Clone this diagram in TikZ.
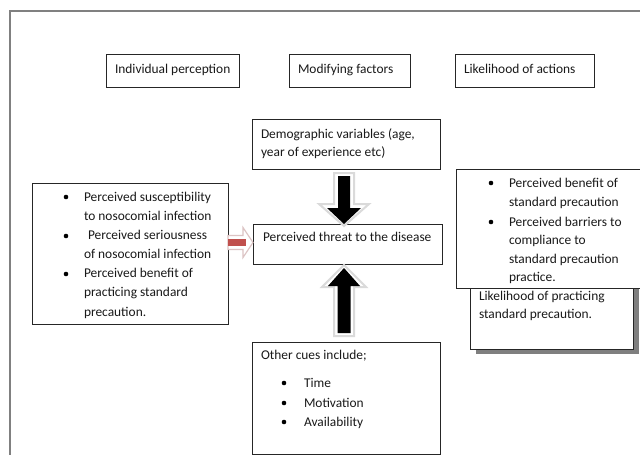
\documentclass[tikz,border=0pt]{standalone}
\usepackage{fontspec}
\setmainfont{Carlito}
\usetikzlibrary{calc,shadows}
\definecolor{framegray}{HTML}{808080}
\definecolor{arrred}{HTML}{C0504D}
\definecolor{halogray}{HTML}{DADADA}
\definecolor{halored}{HTML}{DCC4C4}
\definecolor{shadowgray}{HTML}{7F7F7F}
\tikzset{
  box/.style={draw=black!85, line width=0.8pt, fill=white, inner sep=0pt, outer sep=0pt, anchor=north west},
  txt/.style={inner sep=0pt, outer sep=0pt, anchor=base west, font=\fontsize{13.4}{19}\selectfont, text=black!90},
  bul/.style={circle, fill=black, draw=none, inner sep=0pt, minimum size=4.6pt},
  halo/.style={fill=white, draw=halogray, line width=2pt, line join=miter},
  blk/.style={fill=black, draw=none},
}
% #1 start, #2 tip, #3 shaft half width, #4 head half width, #5 y offset tip->head base
\newcommand{\vblockarrow}[5]{($(#1)+(-#3,0)$) -- ($(#1)+(#3,0)$) -- ($(#2)+(#3,#5)$) -- ($(#2)+(#4,#5)$) -- (#2) -- ($(#2)+(-#4,#5)$) -- ($(#2)+(-#3,#5)$) -- cycle}
\begin{document}
\begin{tikzpicture}[x=1pt,y=-1pt]
\useasboundingbox (0,0) rectangle (640,455);
\clip (0,0) rectangle (640,455);
\fill[white] (0,0) rectangle (640,455);
\draw[framegray, line width=1.2pt] (10,460) -- (10,11) -- (650,11);

% header boxes
\node[box, minimum width=133pt, minimum height=33pt] (hip) at (106,54) {};
\node[txt] (hipt) at ($(hip.north west)+(9,19)$) {Individual perception};
\node[box, minimum width=121pt, minimum height=33pt] (hmf) at (289,54) {};
\node[txt] (hmft) at ($(hmf.north west)+(9,19)$) {Modifying factors};
\node[box, minimum width=139pt, minimum height=33pt] (hla) at (455,54) {};
\node[txt] (hlat) at ($(hla.north west)+(9,19)$) {Likelihood of actions};

% demographic box
\node[box, minimum width=188pt, minimum height=50pt] (demo) at (252,119) {};
\node[txt] (demo1) at (261,138) {Demographic variables (age,};
\node[txt] (demo2) at (261,156) {year of experience etc)};

% threat box
\node[box, minimum width=189pt, minimum height=40pt] (threat) at (253,224) {};
\node[txt] (threat1) at (263,241) {Perceived threat to the disease};

% left list box
\node[box, minimum width=196pt, minimum height=141pt] (left) at (32,183) {};
\node[bul] (lb1) at (66,197) {};
\node[bul] (lb2) at (66,236) {};
\node[bul] (lb3) at (66,274) {};
\node[txt] (l1) at (84,201) {Perceived susceptibility};
\node[txt] (l2) at (84,220.2) {to nosocomial infection};
\node[txt] (l3) at (88,239.3) {Perceived seriousness};
\node[txt] (l4) at (84,258.5) {of nosocomial infection};
\node[txt] (l5) at (84,277.7) {Perceived benefit of};
\node[txt] (l6) at (84,296.8) {practicing standard};
\node[txt] (l7) at (84,316) {precaution.};

% likelihood of practicing box (with shadow)
\node[box, minimum width=163pt, minimum height=75pt,
      drop shadow={shadow xshift=6pt, shadow yshift=-5pt, fill=shadowgray, opacity=1}] (prac) at (470,274) {};
\node[txt] (p1) at (479,300) {Likelihood of practicing};
\node[txt] (p2) at (479,318) {standard precaution.};

% right list box
\node[box, minimum width=190pt, minimum height=119pt] (right) at (456,169) {};
\node[bul] (rb1) at (491,183) {};
\node[bul] (rb2) at (491,222) {};
\node[txt] (r1) at (509,187) {Perceived benefit of};
\node[txt] (r2) at (509,206) {standard precaution};
\node[txt] (r3) at (509,226) {Perceived barriers to};
\node[txt] (r4) at (509,244.5) {compliance to};
\node[txt] (r5) at (509,263) {standard precaution};
\node[txt] (r6) at (509,281.5) {practice.};

% other cues box
\node[box, minimum width=188pt, minimum height=112pt] (cues) at (252,342) {};
\node[txt] (c0) at (261,359) {Other cues include;};
\node[bul] (cb1) at (284,383) {};
\node[bul] (cb2) at (284,403) {};
\node[bul] (cb3) at (284,422) {};
\node[txt] (c1) at (304,387) {Time};
\node[txt] (c2) at (304,407) {Motivation};
\node[txt] (c3) at (304,426) {Availability};

% connector: demographic -> threat (down block arrow)
\coordinate (da) at ($(demo.south)+(-2,7)$);
\coordinate (dt) at (threat.north -| da);
\coordinate (dha) at ($(da)+(0,-3)$);
\coordinate (dht) at ($(dt)+(0,2)$);
\draw[halo] \vblockarrow{dha}{dht}{10}{25}{-22};
\fill[blk] \vblockarrow{da}{dt}{6}{17}{-16};

% connector: cues -> threat (up block arrow)
\coordinate (ua) at ($(cues.north)+(-2,-9)$);
\coordinate (ut) at ($(threat.south -| ua)+(0,4)$);
\coordinate (uha) at ($(ua)+(0,3)$);
\coordinate (uht) at ($(ut)+(0,-3)$);
\draw[halo] \vblockarrow{uha}{uht}{10}{22}{22};
\fill[blk] \vblockarrow{ua}{ut}{6.5}{16}{18};

% connector: left list -> threat (red arrow)
\coordinate (ra) at ($(left.east)+(0,-11)$);
\coordinate (rt) at (threat.west |- ra);
\draw[fill=white, draw=halored, line width=1.2pt, line join=miter]
  ($(ra)+(0,-7)$) -- ($(rt)+(-10,-7)$) -- ($(rt)+(-10,-15)$) -- (rt)
  -- ($(rt)+(-10,15)$) -- ($(rt)+(-10,7)$) -- ($(ra)+(0,7)$) -- cycle;
\fill[arrred] ($(ra)+(0,-4)$) rectangle ($(rt)+(-7,3)$);
\end{tikzpicture}
\end{document}
